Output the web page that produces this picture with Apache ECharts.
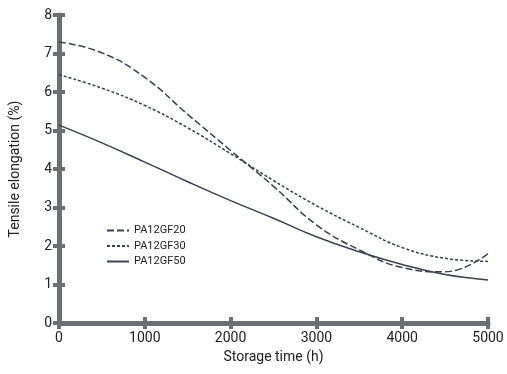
<!DOCTYPE html>
<html>
<head>
<meta charset="utf-8">
<script src="https://cdn.jsdelivr.net/npm/echarts@6/dist/echarts.min.js"></script>
<style>
html,body{margin:0;padding:0;background:#fff;}
#chart{width:507px;height:374px;}
</style>
</head>
<body>
<div id="chart"></div>
<script>
const hours = [0, 500, 1000, 1500, 2000, 2500, 3000, 3500, 4000, 4500, 5000];
const pa12gf20 = [7.3, 7.02, 6.38, 5.42, 4.48, 3.55, 2.55, 1.9, 1.44, 1.33, 1.8];
const pa12gf30 = [6.45, 6.1, 5.65, 5.07, 4.4, 3.7, 3.05, 2.48, 1.96, 1.68, 1.6];
const pa12gf50 = [5.14, 4.68, 4.18, 3.67, 3.18, 2.72, 2.24, 1.85, 1.52, 1.26, 1.12];
const seriesNames = ['PA12GF20', 'PA12GF30', 'PA12GF50'];
const xTicks = [0, 1000, 2000, 3000, 4000, 5000];
const yTicks = [0, 1, 2, 3, 4, 5, 6, 7, 8];

const axisColor = '#6d6e71';
const lineColor = '#3a404c';
const font = 'Roboto';

function pairs(vals) { return hours.map((h, i) => [h, vals[i]]); }

const chart = echarts.init(document.getElementById('chart'), null, {renderer: 'canvas'});
const baseX = {
  type: 'value', min: xTicks[0], max: xTicks[xTicks.length - 1], interval: 1000,
  splitLine: {show: false}
};
const baseY = {
  type: 'value', min: yTicks[0], max: yTicks[yTicks.length - 1], interval: 1,
  splitLine: {show: false}
};
chart.setOption({
  animation: false,
  grid: {left: 57, right: 19, top: 15, bottom: 51, containLabel: false},
  xAxis: [
    Object.assign({}, baseX, {
      name: 'Storage time (h)', nameLocation: 'middle', nameGap: 27,
      nameTextStyle: {fontFamily: font, fontSize: 14, color: '#222'},
      axisLine: {show: true, lineStyle: {color: axisColor, width: 5}},
      axisTick: {show: true, length: 6, lineStyle: {color: axisColor, width: 4}},
      axisLabel: {fontFamily: font, fontSize: 14, color: '#222', margin: 8,
                  formatter: v => String(v)}
    }),
    Object.assign({}, baseX, {
      position: 'bottom',
      axisLine: {show: false},
      axisTick: {show: true, inside: true, length: 6, lineStyle: {color: axisColor, width: 4}},
      axisLabel: {show: false}
    })
  ],
  yAxis: [
    Object.assign({}, baseY, {
      name: 'Tensile elongation (%)', nameLocation: 'middle', nameGap: 37,
      nameTextStyle: {fontFamily: font, fontSize: 14, color: '#222'},
      axisLine: {show: true, lineStyle: {color: axisColor, width: 5}},
      axisTick: {show: true, length: 6, lineStyle: {color: axisColor, width: 4}},
      axisLabel: {fontFamily: font, fontSize: 14, color: '#222', margin: 7}
    }),
    Object.assign({}, baseY, {
      position: 'left',
      axisLine: {show: false},
      axisTick: {show: true, inside: true, length: 6, lineStyle: {color: axisColor, width: 4}},
      axisLabel: {show: false}
    })
  ],
  legend: {
    left: 101, top: 220, orient: 'vertical',
    itemWidth: 22, itemHeight: 12, itemGap: 4.5,
    itemStyle: {opacity: 0},
    textStyle: {fontFamily: font, fontSize: 11, color: '#222'},
    data: seriesNames
  },
  series: [
    {name: seriesNames[0], type: 'line', smooth: 0.45, symbol: 'none', data: pairs(pa12gf20),
     lineStyle: {color: lineColor, width: 1.5, type: [7, 3]}, itemStyle: {color: lineColor}},
    {name: seriesNames[1], type: 'line', smooth: 0.45, symbol: 'none', data: pairs(pa12gf30),
     lineStyle: {color: lineColor, width: 1.5, type: [3, 2]}, itemStyle: {color: lineColor}},
    {name: seriesNames[2], type: 'line', smooth: 0.45, symbol: 'none', data: pairs(pa12gf50),
     lineStyle: {color: lineColor, width: 1.5, type: 'solid'}, itemStyle: {color: lineColor}}
  ]
});
</script>
</body>
</html>
